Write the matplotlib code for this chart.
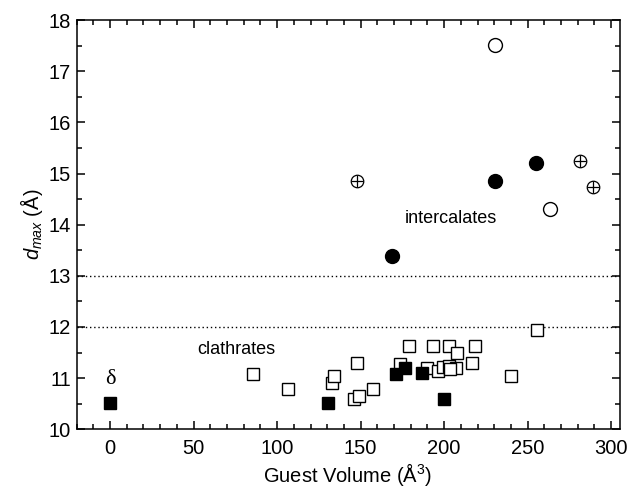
import numpy as np
import matplotlib
matplotlib.use('Agg')
import matplotlib.pyplot as plt
from matplotlib.ticker import MultipleLocator

plt.rcParams['font.family'] = ['Liberation Sans', 'DejaVu Sans']
plt.rcParams['mathtext.fontset'] = 'custom'
plt.rcParams['mathtext.rm'] = 'Liberation Sans'
plt.rcParams['mathtext.it'] = 'Liberation Sans:italic'

# clathrates (open squares)
clath_open_x = [85.3, 106.3, 132.6, 134.2, 148.1, 146.1, 148.9, 157.5, 173.4, 179.0,
                190.0, 193.4, 196.4, 199.3, 202.8, 206.9, 203.3, 202.8, 207.5, 216.9,
                218.5, 239.8, 255.8]
clath_open_y = [11.08, 10.78, 10.91, 11.05, 11.30, 10.59, 10.66, 10.78, 11.27, 11.63,
                11.19, 11.63, 11.13, 11.22, 11.24, 11.19, 11.18, 11.63, 11.49, 11.30,
                11.63, 11.04, 11.94]
# clathrates (filled squares)
clath_fill_x = [0, 130.6, 170.9, 176.8, 186.8, 199.8]
clath_fill_y = [10.52, 10.52, 11.09, 11.19, 11.11, 10.59]

# intercalates
inter_fill_x = [168.9, 230.7, 254.8]
inter_fill_y = [13.39, 14.85, 15.21]
inter_open_x = [230.7, 263.6]
inter_open_y = [17.51, 14.31]
inter_cross_x = [148.1, 281.1, 289.1]
inter_cross_y = [14.85, 15.24, 14.73]

fig = plt.figure(figsize=(6.31, 4.90), dpi=100)
ax = fig.add_axes([0.1215, 0.1239, 0.8603, 0.8351])

ax.axhline(13, color='black', ls=(0, (1, 2)), lw=1)
ax.axhline(12, color='black', ls=(0, (1, 2)), lw=1)

ax.plot(clath_open_x, clath_open_y, 's', ms=9, mfc='white', mec='black', mew=1)
ax.plot(clath_fill_x, clath_fill_y, 's', ms=9, mfc='black', mec='black', mew=1)
ax.plot(inter_fill_x, inter_fill_y, 'o', ms=10, mfc='black', mec='black', mew=1)
ax.plot(inter_open_x, inter_open_y, 'o', ms=10, mfc='white', mec='black', mew=1)
ax.plot(inter_cross_x, inter_cross_y, 'o', ms=9, mfc='white', mec='black', mew=0.9)
ax.plot(inter_cross_x, inter_cross_y, '+', ms=9, mec='black', mew=0.9)

ax.text(176.4, 14.12, 'intercalates', fontsize=13, va='center', ha='left')
ax.text(52.2, 11.56, 'clathrates', fontsize=13, va='center', ha='left')
ax.text(0, 10.98, 'δ', fontsize=16, va='center', ha='center',
        family=['Liberation Serif', 'DejaVu Serif'])

ax.set_xlim(-20, 305)
ax.set_ylim(10, 18)
ax.xaxis.set_major_locator(MultipleLocator(50))
ax.xaxis.set_minor_locator(MultipleLocator(10))
ax.yaxis.set_major_locator(MultipleLocator(1))
ax.yaxis.set_minor_locator(MultipleLocator(0.5))
ax.tick_params(which='both', direction='in', top=True, right=True, labelsize=14.5, width=1.1)
ax.tick_params(which='major', length=6)
ax.tick_params(which='minor', length=3.5)
ax.tick_params(axis='x', pad=7)
ax.tick_params(axis='y', pad=4)
for s in ax.spines.values():
    s.set_linewidth(1.1)

ax.set_xlabel('Guest Volume (Å$^3$)', fontsize=14.5, labelpad=2)
ax.set_ylabel('$d_{max}$ (Å)', fontsize=14.5, labelpad=3)

fig.savefig('out.png', dpi=100)
